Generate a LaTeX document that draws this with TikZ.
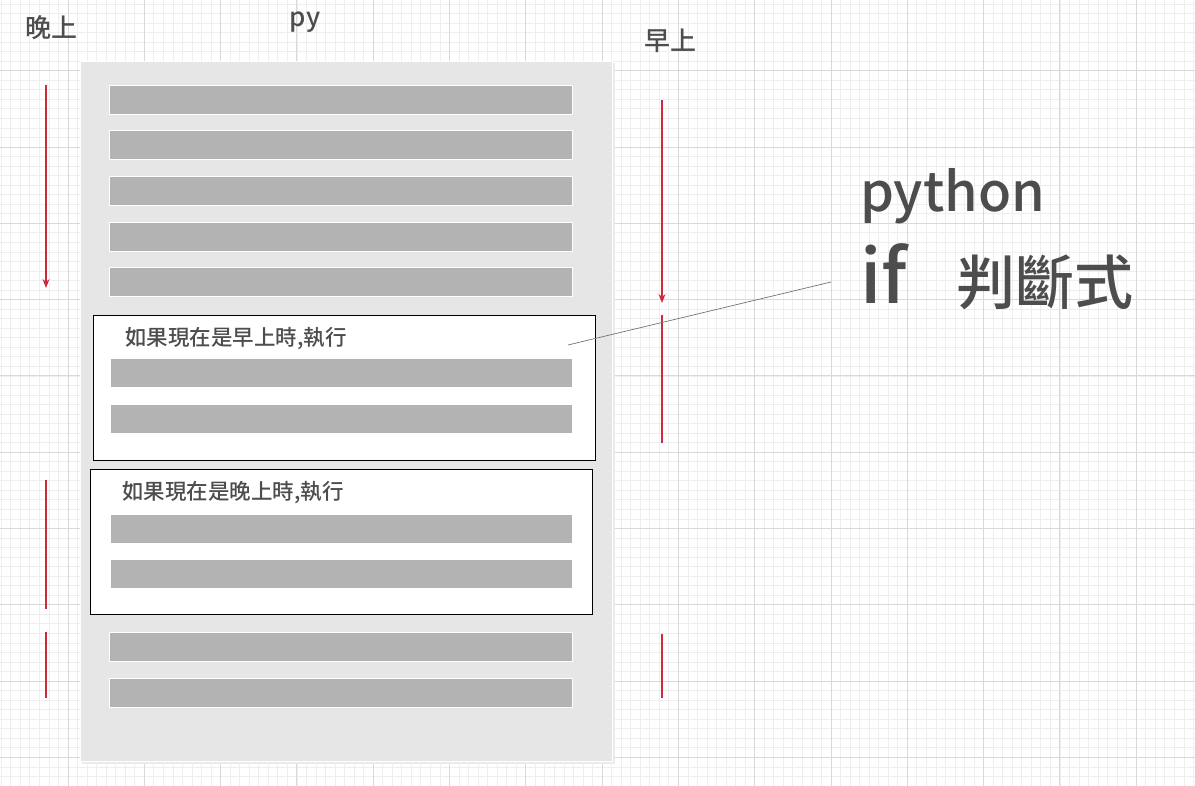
\documentclass[tikz,border=0pt]{standalone}
\usepackage{fontspec}
\setmainfont{Noto Sans CJK TC}[UprightFont=* Medium, BoldFont=* Bold]
\usetikzlibrary{positioning, arrows.meta}
\definecolor{gridminor}{HTML}{EEEEEE}
\definecolor{gridmajor}{HTML}{D9D9D9}
\definecolor{pagegray}{HTML}{E6E6E6}
\definecolor{bargray}{HTML}{B3B3B3}
\definecolor{textgray}{HTML}{4D4D4D}
\definecolor{timered}{HTML}{D0283C}
\tikzset{
  graybar/.style={draw=white, line width=1pt, fill=bargray, minimum width=463pt,
    minimum height=29pt, inner sep=0pt, anchor=north west},
  condbox/.style={draw=black, line width=1pt, fill=white, minimum width=502pt,
    minimum height=145pt, inner sep=0pt, anchor=north west},
  condtext/.style={font=\fontsize{21.5}{25}\selectfont, text=textgray, anchor=west, inner sep=0pt},
  timetext/.style={font=\fontsize{26}{30}\selectfont, text=textgray, inner sep=0pt},
  timeline/.style={draw=timered, line width=1.2pt},
  bigtext/.style={text=textgray, anchor=base west, inner sep=0pt}
}
\begin{document}
\begin{tikzpicture}[x=1pt, y=-1pt]
  \useasboundingbox (0,0) rectangle (1195,786);
  % background grid
  \foreach \i in {0,...,125} \draw[gridminor, line width=0.8pt] ({1.24+\i*9.5375},0) -- ++(0,786);
  \foreach \i in {0,...,82} \draw[gridminor, line width=0.8pt] (0,{3.94+\i*9.5375}) -- ++(1195,0);
  \foreach \i in {0,...,14} \draw[gridmajor, line width=0.9pt] ({68+\i*76.3},0) -- ++(0,786);
  \foreach \i in {0,...,9} \draw[gridmajor, line width=0.9pt] (0,{70.7+\i*76.3}) -- ++(1195,0);

  % the page
  \fill[black!8] (82,63) rectangle (615,764);
  \node[draw=white, line width=1pt, fill=pagegray, minimum width=532pt, minimum height=700pt,
    inner sep=0pt, anchor=north west] (page) at (80,61) {};

  % lines of code
  \foreach \y [count=\n] in {85,130,176,222,267}
    \node[graybar] (bar\n) at (109,\y) {};
  \node[graybar] (bar6) at (109,632) {};
  \node[graybar] (bar7) at (109,678) {};

  % morning block
  \node[condbox] (morning) at (93,315) {};
  \node[condtext] (morningtext) at (125,339) {如果現在是早上時,執行};
  \node[graybar, draw=none, minimum width=461pt, minimum height=28pt] (mbar1) at (110,359) {};
  \node[graybar, draw=none, minimum width=461pt, minimum height=28pt] (mbar2) at (110,405) {};

  % night block
  \node[condbox] (night) at (90,469) {};
  \node[condtext] (nighttext) at (122,493) {如果現在是晚上時,執行};
  \node[graybar, draw=none, minimum width=461pt, minimum height=28pt] (nbar1) at (110,514) {};
  \node[graybar, draw=none, minimum width=461pt, minimum height=28pt] (nbar2) at (110,559) {};

  % labels
  \node[timetext] (nightlabel) at (51,28) {晚上};
  \node[timetext] (pylabel) at (305,22) {py};
  \node[timetext] (morninglabel) at (670,41) {早上};

  % night time line
  \coordinate (nl1) at (46,85);  \coordinate (nl2) at (46,288);
  \coordinate (nl3) at (46,480); \coordinate (nl4) at (46,609);
  \coordinate (nl5) at (46,632); \coordinate (nl6) at (46,698);
  \draw[timeline, -{Stealth[length=9pt, width=7pt]}] (nl1) -- (nl2);
  \draw[timeline] (nl3) -- (nl4);
  \draw[timeline] (nl5) -- (nl6);

  % morning time line
  \coordinate (ml1) at (662,100); \coordinate (ml2) at (662,303);
  \coordinate (ml3) at (662,315); \coordinate (ml4) at (662,443);
  \coordinate (ml5) at (662,634); \coordinate (ml6) at (662,698);
  \draw[timeline, -{Stealth[length=9pt, width=7pt]}] (ml1) -- (ml2);
  \draw[timeline] (ml3) -- (ml4);
  \draw[timeline] (ml5) -- (ml6);

  % title
  \node[bigtext, font=\fontsize{54}{58}\selectfont] (python) at (860,212) {python};
  \node[bigtext, font=\fontsize{74}{80}\selectfont] (ifword) at (860,304) {if};
  \node[bigtext, font=\fontsize{59}{64}\selectfont] (judge) at (956,305) {判斷式};

  % pointer
  \coordinate (pointer) at (568,345);
  \coordinate (pointerend) at (831,282);
  \draw[black!55, line width=0.7pt] (pointer) -- (pointerend);
\end{tikzpicture}
\end{document}
